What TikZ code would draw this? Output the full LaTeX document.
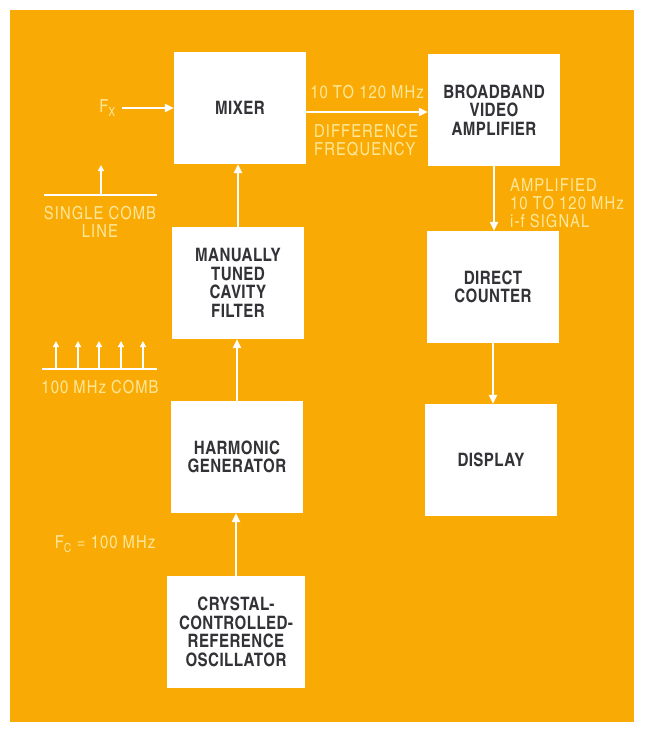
\documentclass[tikz,border=0pt]{standalone}
\usepackage{fontspec}
\setmainfont{texgyreheroscn}[Extension=.otf, UprightFont=*-regular, BoldFont=*-bold]
\newfontfamily\blockfont{texgyreheroscn}[Extension=.otf, UprightFont=*-bold, LetterSpace=2]
\newfontfamily\tagfont{texgyreheroscn}[Extension=.otf, UprightFont=*-regular, LetterSpace=6]
\usetikzlibrary{arrows.meta, positioning}

\definecolor{panelorange}{RGB}{250,170,4}
\definecolor{labelcream}{RGB}{253,230,150}
\definecolor{inkgray}{RGB}{50,50,55}

\begin{document}
\begin{tikzpicture}[x=1pt, y=-1pt,
    block/.style={rectangle, fill=white, minimum width=132pt, minimum height=112pt, inner sep=2pt,
      align=center, text=inkgray, font=\blockfont\fontsize{18.5}{18.5}\selectfont},
    tag/.style={text=labelcream, inner sep=0pt, font=\tagfont\fontsize{18}{18}\selectfont},
    flow/.style={draw=white, line width=2.4pt, -{Triangle[length=9pt,width=8pt]}},
    comb/.style={draw=white, line width=1.6pt, -{Triangle[length=6pt,width=6pt]}}]
  \useasboundingbox (0,0) rectangle (646,739);
  \fill[panelorange] (10,10) rectangle (634,722);

  % Blocks, left column
  \node[block] (mixer) at (240,108) {MIXER};
  \node[block] (filter) at (238,283) {MANUALLY\\TUNED\\CAVITY\\FILTER};
  \node[block] (harmonic) at (237,457) {HARMONIC\\GENERATOR};
  \node[block, minimum width=138pt] (crystal) at (236,632) {CRYSTAL-\\CONTROLLED-\\REFERENCE\\OSCILLATOR};

  % Blocks, right column
  \node[block] (video) at (494,110) {BROADBAND\\VIDEO\\AMPLIFIER};
  \node[block] (counter) at (493,287) {DIRECT\\COUNTER};
  \node[block] (display) at (491,460) {DISPLAY};

  % Signal path
  \coordinate (fxin) at (122,108);
  \draw[flow] (fxin) -- (fxin -| mixer.west);
  \draw[flow] ([yshift=-4pt]mixer.east) -- ([yshift=-4pt]mixer.east -| video.west);
  \draw[flow] (video.south) -- (video.south |- counter.north);
  \draw[flow] (counter.south) -- (counter.south |- display.north);
  \draw[flow] (crystal.north) -- (crystal.north |- harmonic.south);
  \draw[flow] (harmonic.north) -- (harmonic.north |- filter.south);
  \draw[flow] (filter.north) -- (filter.north |- mixer.south);

  % Labels
  \node[tag, left=6pt of fxin] (fx) {F\textsubscript{X}};
  \node[tag] (band) at (367,92) {10 TO 120 MHz};
  \node[tag, anchor=west, align=left] (diff) at (314,140) {DIFFERENCE\\FREQUENCY};
  \node[tag, anchor=west, align=left] (amp) at (510,203) {AMPLIFIED\\10 TO 120 MHz\\i-f SIGNAL};
  \node[tag] (fc) at (105,544) {F\textsubscript{C} = 100 MHz};

  % Comb sketches
  \draw[white, line width=2pt] (44,195) -- (157,195);
  \draw[comb] (101,195) -- (101,165);
  \node[tag, align=center] (single) at (100,222) {SINGLE COMB\\LINE};
  \draw[white, line width=2pt] (42,369) -- (157,369);
  \foreach \xc in {56,78,99,121,143}
    \draw[comb] (\xc,369) -- (\xc,341);
  \node[tag] (hundred) at (100,387) {100 MHz COMB};
\end{tikzpicture}
\end{document}
